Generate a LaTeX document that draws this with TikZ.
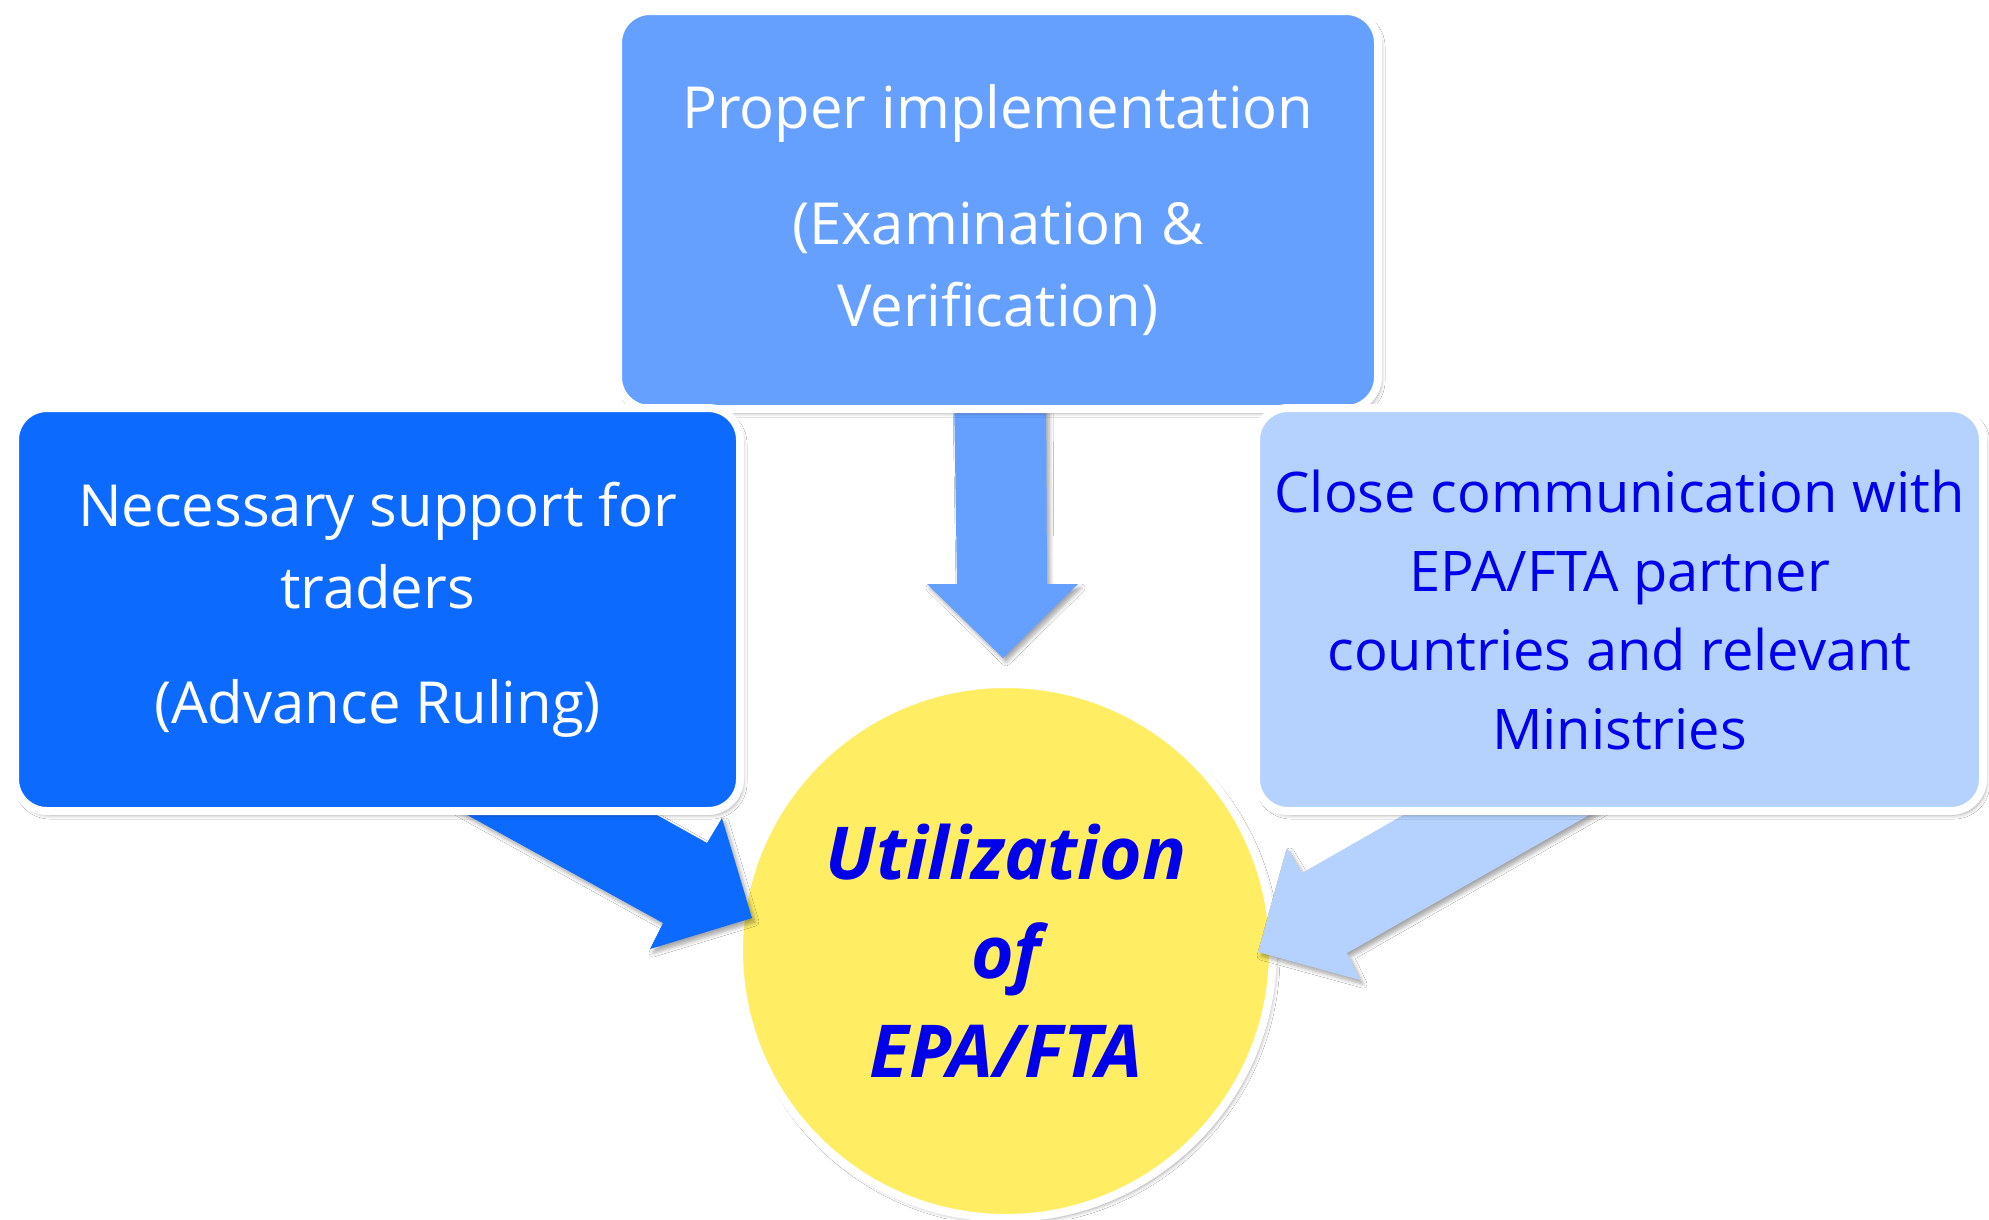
\documentclass[tikz,border=0pt]{standalone}
\usepackage{fontspec}
\setmainfont{Open Sans}
\usetikzlibrary{shadows.blur}
\definecolor{topblue}{RGB}{102,160,255}
\definecolor{leftblue}{RGB}{13,106,255}
\definecolor{rightblue}{RGB}{181,210,255}
\definecolor{sunyellow}{RGB}{255,238,100}
\definecolor{txtblue}{RGB}{0,0,235}
\begin{document}
\begin{tikzpicture}[x=1pt,y=-1pt,
  softshadow/.style={blur shadow={shadow xshift=3pt, shadow yshift=-4pt, shadow opacity=35, shadow blur steps=6, shadow blur radius=4pt}},
  box/.style={draw=white, line width=8pt, rounded corners=32pt, align=center, inner sep=0pt, softshadow},
  boxtext/.style={font=\fontsize{58}{82}\selectfont},
  arr/.style={softshadow}
]
\useasboundingbox[fill=white] (0,0) rectangle (1989,1219);

% centre circle
\node[circle, fill=sunyellow, draw=white, line width=8pt, minimum size=534pt, inner sep=0pt, softshadow,
      font=\fontsize{73}{99}\selectfont\bfseries\itshape, text=txtblue, align=center]
  (goal) at (1006,951) {Utilization\\of\\EPA/FTA};

% arrows
\fill[topblue, arr] (954,395) -- (1046,395) -- (1047,584) -- (1078,584) -- (1003,658) -- (927,584) -- (957,584) -- cycle;
\fill[leftblue, arr] (422,790) -- (612,790) -- (707,843) -- (722,818) -- (752,918) -- (650,949) -- (663,923) -- cycle;
\fill[rightblue, arr] (1447,790) -- (1633,790) -- (1347,953) -- (1360,980) -- (1258,952) -- (1287,848) -- (1302,873) -- cycle;

% boxes
\node[box, fill=topblue, minimum width=760pt, minimum height=398pt, text=white, boxtext]
  (impl) at (998,210) {Proper implementation\\[34pt](Examination \&\\Verification)};
\node[box, fill=leftblue, minimum width=725pt, minimum height=403pt, text=white, boxtext]
  (support) at (377.5,609.5) {Necessary support for\\traders\\[33pt](Advance Ruling)};
\node[box, fill=rightblue, minimum width=727pt, minimum height=403pt, text=txtblue, font=\fontsize{56}{79}\selectfont]
  (comm) at (1619.5,609.5) {Close communication with\\EPA/FTA partner\\countries and relevant\\Ministries};
\end{tikzpicture}
\end{document}
